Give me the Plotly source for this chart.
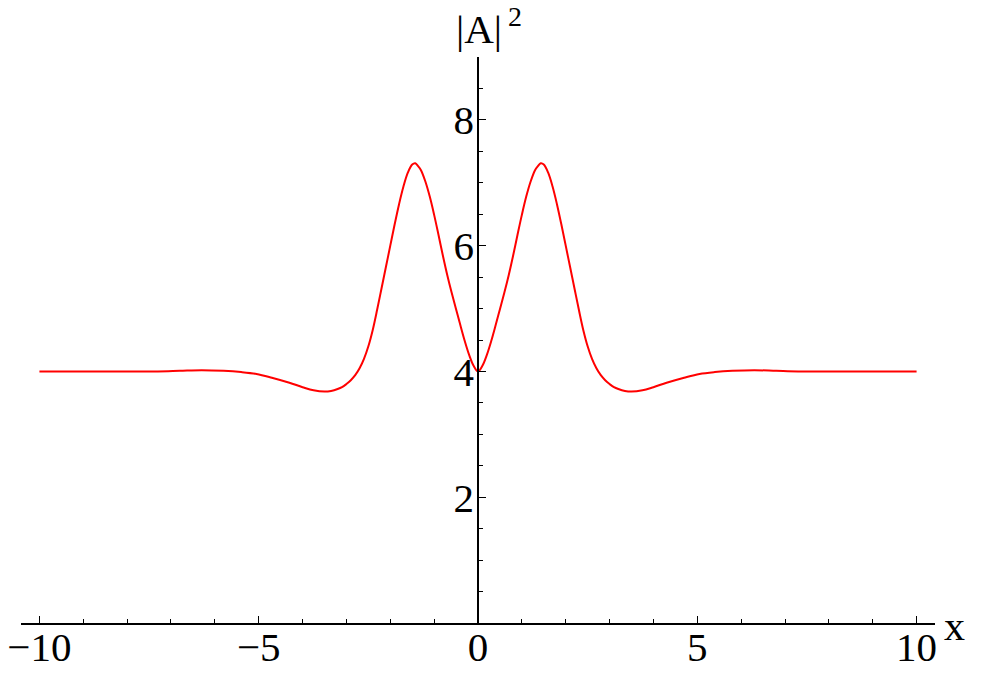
import plotly.graph_objects as go

# |A|^2 profile (left half, then right half)
x_left = [
    -10, -9, -8, -7.3, -6.8, -6.3, -5.8, -5.4, -5.05, -4.7, -4.3, -4.0, -3.75,
    -3.5, -3.35, -3.2, -3.1, -3.0, -2.9, -2.8, -2.7, -2.6, -2.5, -2.4, -2.3,
    -2.2, -2.1, -2.0, -1.9, -1.8, -1.7, -1.6, -1.5, -1.43, -1.37, -1.3, -1.2,
    -1.1, -1.0, -0.9, -0.8, -0.7, -0.6, -0.5, -0.4, -0.3, -0.2, -0.1,
]
a2_left = [
    4.0, 4.0, 4.0, 4.0, 4.01, 4.02, 4.01, 3.99, 3.96, 3.90, 3.82, 3.75, 3.70,
    3.68, 3.69, 3.72, 3.75, 3.8, 3.86, 3.94, 4.05, 4.2, 4.4, 4.66, 4.98,
    5.32, 5.66, 6.0, 6.34, 6.66, 6.94, 7.16, 7.29, 7.31, 7.27, 7.2, 7.02,
    6.78, 6.49, 6.17, 5.84, 5.53, 5.25, 4.99, 4.73, 4.48, 4.26, 4.09,
]
x_right = [
    0, 0.1, 0.2, 0.3, 0.4, 0.5, 0.6, 0.7, 0.8, 0.9, 1.0, 1.1, 1.2, 1.3, 1.37,
    1.43, 1.5, 1.6, 1.7, 1.8, 1.9, 2.0, 2.1, 2.2, 2.3, 2.4, 2.5, 2.6, 2.7,
    2.8, 2.9, 3.0, 3.1, 3.2, 3.35, 3.5, 3.75, 4.0, 4.3, 4.7, 5.05, 5.4, 5.8,
    6.3, 6.8, 7.3, 8, 9, 10,
]
a2_right = [
    4.0, 4.09, 4.26, 4.48, 4.73, 4.99, 5.25, 5.53, 5.84, 6.17, 6.49, 6.78,
    7.02, 7.2, 7.27, 7.31, 7.29, 7.16, 6.94, 6.66, 6.34, 6.0, 5.66, 5.32,
    4.98, 4.66, 4.4, 4.2, 4.05, 3.94, 3.86, 3.8, 3.75, 3.72, 3.69, 3.68,
    3.70, 3.75, 3.82, 3.90, 3.96, 3.99, 4.01, 4.02, 4.01, 4.0, 4.0, 4.0, 4.0,
]

x_ticks = [-10, -5, 0, 5, 10]
y_ticks = [2, 4, 6, 8]

FONT = "Liberation Serif, Times New Roman, serif"

fig = go.Figure()
fig.add_trace(
    go.Scatter(
        x=x_left + x_right,
        y=a2_left + a2_right,
        mode="lines",
        line=dict(color="#ff0000", width=2, shape="spline", smoothing=1.0),
        hoverinfo="skip",
    )
)

axis_common = dict(
    tickmode="array",
    ticks="inside",
    ticklen=7,
    tickwidth=1,
    tickcolor="black",
    showline=True,
    linecolor="black",
    linewidth=1.5,
    showgrid=False,
    zeroline=False,
    automargin=False,
    ticklabeloverflow="allow",
    tickfont=dict(family=FONT, size=41),
)

# the page body adds an 8px offset, so the figure is 8px smaller each way
fig.update_layout(
    width=992,
    height=671,
    margin=dict(l=13, r=65, t=49, b=56),
    paper_bgcolor="white",
    plot_bgcolor="white",
    showlegend=False,
    font=dict(family=FONT, size=40, color="black"),
    xaxis=dict(
        range=[-10.42, 10.42],
        tickvals=x_ticks,
        ticklabelstandoff=-13,
        minor=dict(tickmode="linear", tick0=0, dtick=1, ticks="inside",
                   ticklen=4, tickcolor="black", tickwidth=1),
        **axis_common,
    ),
    yaxis=dict(
        range=[0, 9],
        anchor="free",
        position=0.5,
        tickvals=y_ticks,
        ticklabelstandoff=-5,
        minor=dict(tickmode="linear", tick0=0, dtick=0.5, ticks="inside",
                   ticklen=4, tickcolor="black", tickwidth=1),
        **axis_common,
    ),
    annotations=[
        dict(
            text="|A|",
            xref="paper", yref="paper",
            x=0.501, y=1.006,
            xanchor="center", yanchor="bottom",
            showarrow=False,
            font=dict(family=FONT, size=41),
        ),
        dict(
            text="2",
            xref="paper", yref="paper",
            x=0.5306, y=1.04,
            xanchor="left", yanchor="bottom",
            showarrow=False,
            font=dict(family=FONT, size=28),
        ),
        dict(
            text="x",
            xref="paper", yref="paper",
            x=1.0208, y=-0.006,
            xanchor="center", yanchor="middle",
            showarrow=False,
            font=dict(family=FONT, size=42),
        ),
    ],
)

fig.write_html("out.html")
